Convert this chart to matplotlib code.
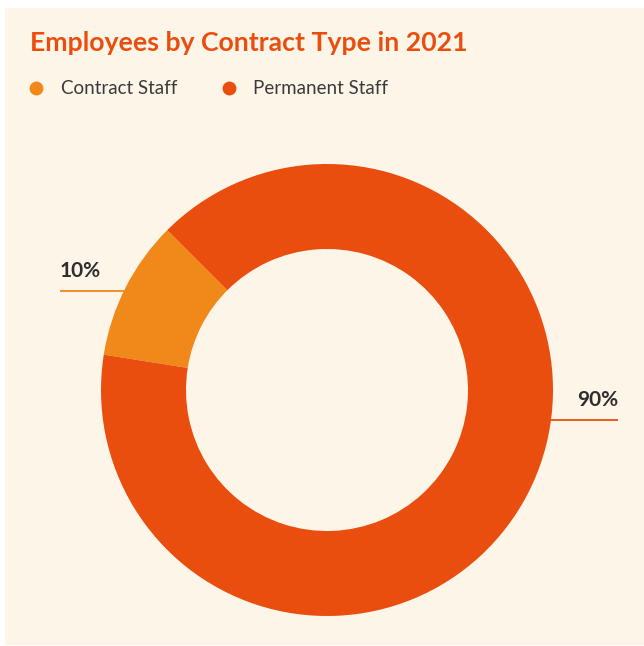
import numpy as np
import matplotlib
matplotlib.use("Agg")
import matplotlib.pyplot as plt
from matplotlib.patches import Rectangle
from matplotlib.lines import Line2D

# Data
labels = ["Contract Staff", "Permanent Staff"]
values = [10, 90]
pct_labels = ["10%", "90%"]
colors = ["#F0881A", "#E94E0F"]

# Style
bg = "#FEF5E9"
title_color = "#E94E0F"
text_color = "#2E2E2E"
plt.rcParams['font.family'] = ['Lato', 'DejaVu Sans']

W, H = 644, 646
fig = plt.figure(figsize=(W / 100, H / 100), dpi=100, facecolor="white")
ax = fig.add_axes([0, 0, 1, 1])

# cream panel
ax.add_patch(Rectangle((5, 1), W - 5, H - 9, facecolor=bg, edgecolor="none", zorder=0))

# donut
cx, cy, r_out, r_in = 327, H - 390, 226, 141
ax.pie(values, colors=colors, startangle=135, counterclock=True,
       center=(cx, cy), radius=r_out,
       wedgeprops=dict(width=r_out - r_in, edgecolor="none"))

# labels with horizontal leader lines
label_pos = [(60, H - 291, "left"), (618, H - 420, "right")]
for (lx, ly, side), txt, col in zip(label_pos, pct_labels, colors):
    dx = np.sqrt(r_out ** 2 - (ly - cy) ** 2)
    edge = cx - dx if side == "left" else cx + dx
    ax.plot([lx, edge], [ly, ly], color=col, lw=1.3, solid_capstyle="butt", zorder=1)
    ax.text(lx, ly + 14, txt, ha=side, va="baseline", fontsize=15,
            fontweight="bold", color=text_color)

# title
ax.text(30, H - 51, "Employees by Contract Type in 2021", fontsize=19.2,
        fontweight="bold", color=title_color, ha="left", va="baseline")

# legend
handles = [Line2D([], [], marker="o", ls="none", markersize=10,
                  markerfacecolor=c, markeredgecolor="none") for c in colors]
ax.legend(handles, labels, loc="center left", bbox_to_anchor=(27 / W, 1 - 89 / H),
          ncol=2, frameon=False, fontsize=13.5, handlelength=1.0, handletextpad=0.8,
          columnspacing=2.27, borderpad=0, borderaxespad=0, labelcolor="#3A3A3A")

ax.set_xlim(0, W)
ax.set_ylim(0, H)
ax.set_aspect("auto")
ax.axis("off")

fig.savefig("out.png", dpi=100, facecolor="white")
